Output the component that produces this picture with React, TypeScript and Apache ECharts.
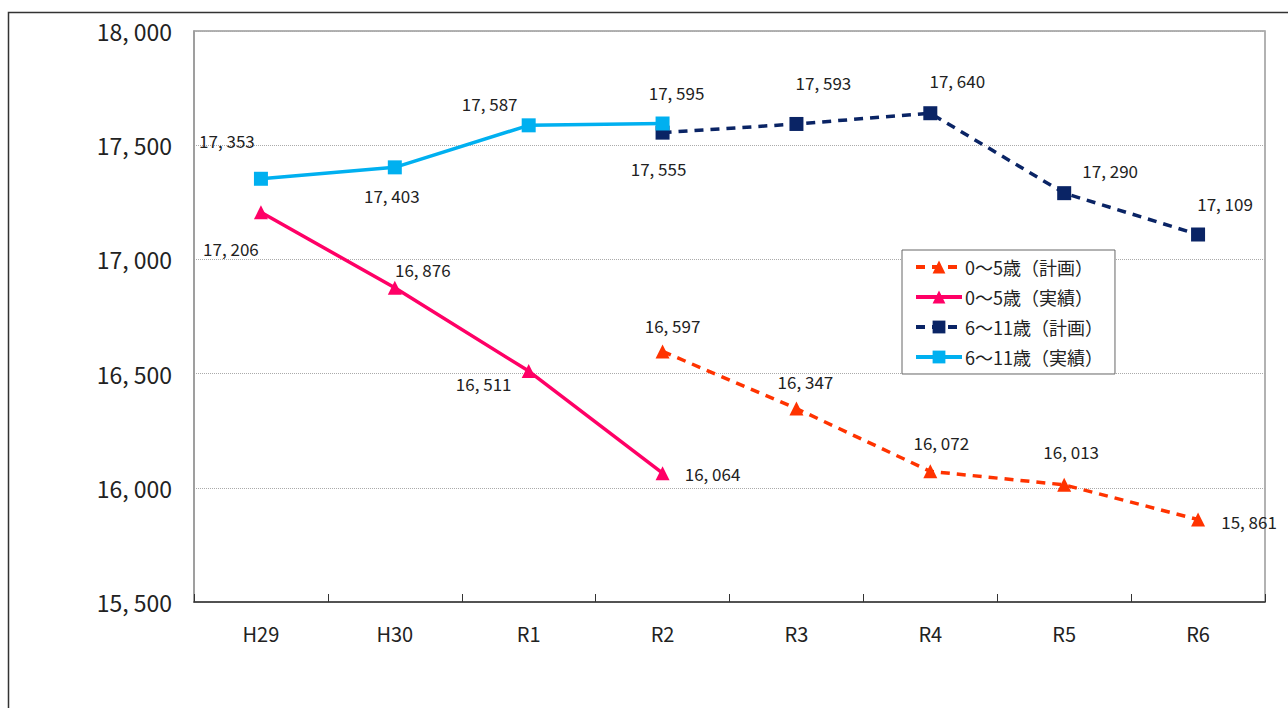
import React, { useEffect, useRef } from "react";
import * as echarts from "echarts";

const categories = ["H29", "H30", "R1", "R2", "R3", "R4", "R5", "R6"];
const plan05: (number | null)[] = [null, null, null, 16597, 16347, 16072, 16013, 15861];
const actual05: (number | null)[] = [17206, 16876, 16511, 16064, null, null, null, null];
const plan611: (number | null)[] = [null, null, null, 17555, 17593, 17640, 17290, 17109];
const actual611: (number | null)[] = [17353, 17403, 17587, 17595, null, null, null, null];
const seriesNames = ["0～5歳（計画）", "0～5歳（実績）", "6～11歳（計画）", "6～11歳（実績）"];

// label offsets (px) relative to point
const offPlan05 = [null, null, null, [10, -26], [9, -27], [11, -29], [7, -33], [51, 2]];
const offActual05 = [[-30, 36], [28, -18], [-45, 12], [50, 0], null, null, null, null];
const offPlan611 = [null, null, null, [-4, 36], [27, -41], [27, -33], [46, -23], [27, -31]];
const offActual611 = [[-34, -38], [-3, 28], [-39, -22], [14, -31], null, null, null, null];

const FONT = "'Noto Sans CJK JP', 'Noto Sans', sans-serif";

const fmt = (v: number) => {
  const th = Math.floor(v / 1000);
  const rest = String(v % 1000).padStart(3, "0");
  return th + ", " + rest;
};

const build = (vals: (number | null)[], offs: any[]) =>
  vals.map((v, i) =>
    v == null
      ? null
      : {
          value: v,
          label: { show: true, position: "inside", offset: offs[i], formatter: (p: any) => fmt(p.value) },
        }
  );

export default function App() {
  const ref = useRef<HTMLDivElement>(null);
  useEffect(() => {
    if (!ref.current) return;
    const chart = echarts.init(ref.current, undefined, { renderer: "svg" });
    const labelStyle = { color: "#222", fontSize: 17, fontFamily: FONT, fontWeight: "normal" };
    const mk = (name: string, data: any[], color: string, dashed: boolean, symbol: string, z: number) => ({
      name,
      type: "line",
      data,
      z,
      symbol,
      symbolSize: 14,
      connectNulls: false,
      lineStyle: { color, width: 3.5, type: dashed ? [9, 7] : "solid" },
      itemStyle: { color },
      label: { ...labelStyle },
      emphasis: { disabled: true },
    });
    chart.setOption({
      animation: false,
      backgroundColor: "#fff",
      textStyle: { fontFamily: FONT },
      graphic: [
        {
          type: "rect",
          shape: { x: 8.5, y: 12.5, width: 1300, height: 720 },
          style: { fill: "none", stroke: "#333", lineWidth: 1.5 },
          silent: true,
        },
      ],
      grid: {
        left: 194,
        top: 31,
        right: 23,
        bottom: 106,
        show: true,
        borderColor: "#999",
        borderWidth: 1.5,
        containLabel: false,
      },
      legend: {
        orient: "vertical",
        left: 902,
        top: 250,
        padding: [8, 12, 8, 12],
        itemGap: 12,
        itemWidth: 46,
        itemHeight: 16,
        backgroundColor: "#fff",
        borderColor: "#666",
        borderWidth: 1,
        lineStyle: { width: 4 },
        textStyle: { fontSize: 18, color: "#222", fontFamily: FONT, fontWeight: "normal", padding: [0, 0, 0, -2] },
        data: seriesNames,
      },
      xAxis: {
        type: "category",
        data: categories,
        boundaryGap: true,
        axisLine: { lineStyle: { color: "#333", width: 1.5 } },
        axisTick: { show: true, inside: true, length: 8, lineStyle: { color: "#333" } },
        axisLabel: { color: "#222", fontSize: 20, margin: 21, fontFamily: FONT },
        splitLine: { show: false },
      },
      yAxis: {
        type: "value",
        min: 15500,
        max: 18000,
        interval: 500,
        axisLine: { show: true, lineStyle: { color: "#999", width: 1.5 } },
        axisTick: { show: false },
        axisLabel: {
          color: "#222",
          fontSize: 23,
          margin: 22,
          fontFamily: FONT,
          formatter: (v: number) => fmt(v),
        },
        splitLine: { show: true, lineStyle: { color: "#aaa", type: "dotted", width: 1 } },
      },
      series: [
        mk(seriesNames[0], build(plan05, offPlan05), "#FF3300", true, "triangle", 2),
        mk(seriesNames[1], build(actual05, offActual05), "#FF0066", false, "triangle", 3),
        mk(seriesNames[2], build(plan611, offPlan611), "#0A2465", true, "rect", 2),
        mk(seriesNames[3], build(actual611, offActual611), "#00B0F0", false, "rect", 3),
      ],
    });
    return () => chart.dispose();
  }, []);
  return (
    <div
      ref={ref}
      style={{ position: "fixed", left: 0, top: 0, width: 1288, height: 708, background: "#fff" }}
    />
  );
}
